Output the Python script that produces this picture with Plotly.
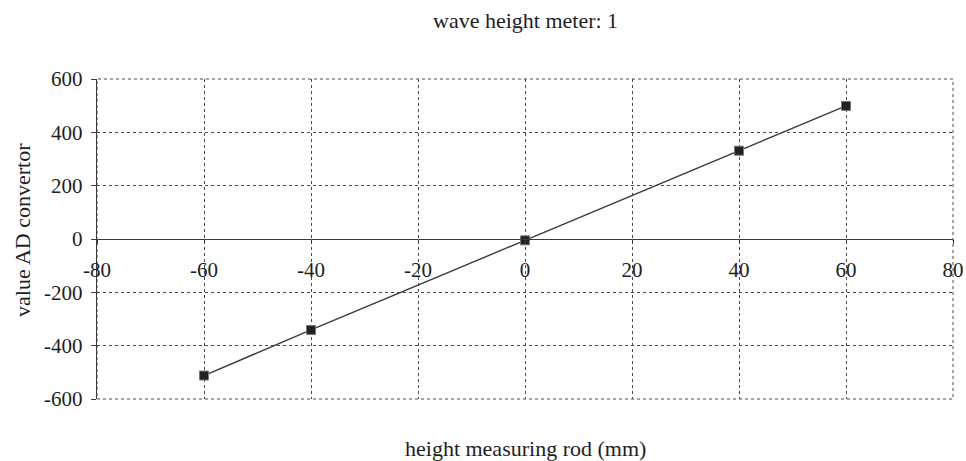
import plotly.graph_objects as go

rod_height_mm = [-60, -40, 0, 40, 60]
ad_value = [-512, -341, -5, 331, 499]

x_ticks = [-80, -60, -40, -20, 0, 20, 40, 60, 80]
y_ticks = [-600, -400, -200, 0, 200, 400, 600]

title_text = "wave height meter: 1"
x_title = "height measuring rod (mm)"
y_title = "value AD convertor"

serif = "Liberation Serif, Times New Roman, serif"

fig = go.Figure()
fig.add_trace(go.Scatter(
    x=rod_height_mm, y=ad_value, mode="lines+markers",
    line=dict(color="#3a3a3a", width=1.4),
    marker=dict(symbol="square", size=9, color="#222222",
                line=dict(color="#777777", width=1)),
    showlegend=False, cliponaxis=False,
))

fig.update_layout(
    width=966, height=461,
    margin=dict(l=97, r=13, t=79, b=62),
    paper_bgcolor="white", plot_bgcolor="white",
    font=dict(family=serif, size=21, color="#1e1e1e"),
    xaxis=dict(
        range=[-80, 80], tickvals=x_ticks, ticktext=[str(v) for v in x_ticks],
        anchor="free", position=0.5, automargin=False,
        showline=True, linecolor="#3a3a3a", linewidth=1.4,
        ticks="outside", ticklen=4, tickcolor="#3a3a3a",
        ticklabelstandoff=8,
        showgrid=True, gridcolor="#4a4a4a", gridwidth=1, griddash="dot",
        zeroline=False, tickfont=dict(size=21),
    ),
    yaxis=dict(
        range=[-600, 600], tickvals=y_ticks, ticktext=[str(v) for v in y_ticks],
        automargin=False,
        showline=True, linecolor="#3a3a3a", linewidth=1.4,
        ticks="outside", ticklen=5, tickcolor="#3a3a3a",
        ticklabelstandoff=4,
        showgrid=True, gridcolor="#4a4a4a", gridwidth=1, griddash="dot",
        zeroline=False, tickfont=dict(size=21),
    ),
    shapes=[dict(type="rect", xref="paper", yref="paper", x0=0, x1=1, y0=0, y1=1,
                 line=dict(color="#4a4a4a", width=1, dash="dot"), layer="below")],
)

fig.add_annotation(text=title_text, xref="paper", yref="paper", x=0.5, y=1 + (79 - 20) / 320,
                   showarrow=False, font=dict(size=22), yanchor="middle")
fig.add_annotation(text=x_title, xref="paper", yref="paper", x=0.5, y=-(448 - 399) / 320,
                   showarrow=False, font=dict(size=22), yanchor="middle")
fig.add_annotation(text=y_title, xref="paper", yref="paper", x=-(97 - 22) / 856, y=(399 - 230) / 320,
                   showarrow=False, font=dict(size=22), textangle=-90,
                   xanchor="center", yanchor="middle")

fig.write_html(
    "out.html",
    config={"displayModeBar": False},
    post_script="document.body.style.margin='0';document.body.style.overflow='hidden';",
)
